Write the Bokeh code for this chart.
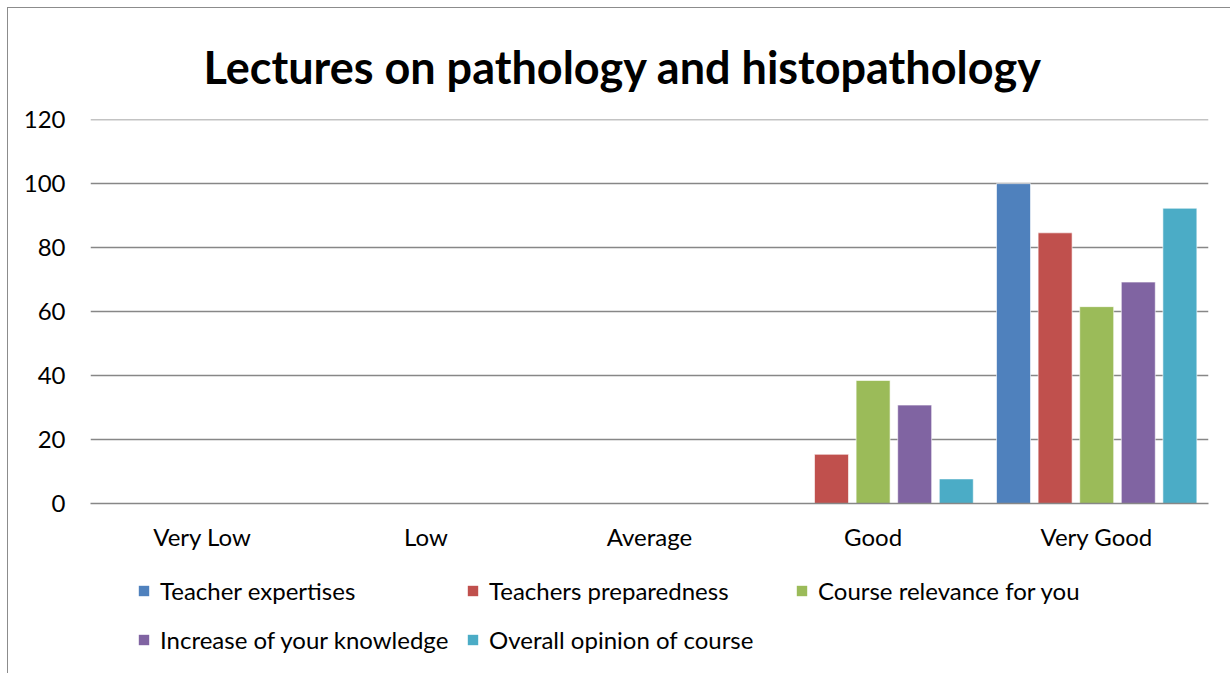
from bokeh.plotting import figure
from bokeh.models import ColumnDataSource, Legend, LegendItem
from bokeh.layouts import column
from bokeh.transform import dodge
from bokeh.embed import file_html
from bokeh.resources import INLINE

categories = ["Very Low", "Low", "Average", "Good", "Very Good"]
series_names = ["Teacher expertises", "Teachers preparedness", "Course relevance for you",
                "Increase of your knowledge", "Overall opinion of course"]
teacher_expertises = [0, 0, 0, 0, 100]
teachers_preparedness = [0, 0, 0, 15.38, 84.62]
course_relevance = [0, 0, 0, 38.46, 61.54]
increase_knowledge = [0, 0, 0, 30.77, 69.23]
overall_opinion = [0, 0, 0, 7.69, 92.31]
y_ticks = [0, 20, 40, 60, 80, 100, 120]
colors = ["#4F81BD", "#C0504D", "#9BBB59", "#8064A2", "#4BACC6"]

FONT = "Lato"
GRID = "#878787"
cols = ["s0", "s1", "s2", "s3", "s4"]

source = ColumnDataSource(dict(
    cat=categories,
    s0=teacher_expertises, s1=teachers_preparedness, s2=course_relevance,
    s3=increase_knowledge, s4=overall_opinion,
))

p = figure(x_range=categories, y_range=(0, 120.05), width=1222, height=552,
           output_backend="svg", toolbar_location=None,
           min_border_left=82, min_border_right=22, min_border_top=111, min_border_bottom=57)

p.title.text = "Lectures on pathology and histopathology"
p.title.text_font = FONT
p.title.text_font_size = "45px"
p.title.text_font_style = "bold"
p.title.text_color = "black"
p.title.align = "left"
p.title.offset = 113
p.title.standoff = 52

p.outline_line_color = None
p.background_fill_color = "white"
p.border_fill_color = "white"

pitch = 0.186
offsets = [-2 * pitch, -pitch, 0, pitch, 2 * pitch]
renderers = []
for i, col in enumerate(cols):
    r = p.vbar(x=dodge("cat", offsets[i], range=p.x_range), top=col, width=0.152,
               source=source, fill_color=colors[i], line_color="white", line_width=1,
               line_alpha=0.6)
    renderers.append(r)

p.xgrid.grid_line_color = None
p.ygrid.grid_line_color = GRID
p.ygrid.grid_line_width = 1.5
p.yaxis.ticker = y_ticks

for ax in (p.xaxis[0], p.yaxis[0]):
    ax.axis_line_color = None
    ax.major_tick_line_color = None
    ax.minor_tick_line_color = None
    ax.major_tick_out = 0
    ax.major_tick_in = 0
    ax.major_label_text_font = FONT
    ax.major_label_text_font_size = "24px"
    ax.major_label_text_color = "black"
p.xaxis.axis_line_color = GRID
p.xaxis.axis_line_width = 1.5
p.yaxis.major_label_standoff = 25
p.xaxis.major_label_standoff = 18

# legend panel below the chart
p2 = figure(x_range=categories, y_range=(200, 300), width=1222, height=113,
            output_backend="svg", toolbar_location=None,
            min_border_left=0, min_border_right=0, min_border_top=0, min_border_bottom=0)
p2.outline_line_color = None
p2.axis.visible = False
p2.grid.visible = False
p2.border_fill_color = "white"
leg_renderers = []
for i, col in enumerate(cols):
    r = p2.vbar(x="cat", top=col, width=0.152, source=source, fill_color=colors[i],
                line_color=None, visible=False)
    leg_renderers.append(r)

legend = Legend(items=[LegendItem(label=n, renderers=[r]) for n, r in zip(series_names, leg_renderers)],
                orientation="horizontal", nrows=2, location=(47, 14))
legend.label_text_font = FONT
legend.label_text_font_size = "24px"
legend.label_text_color = "black"
legend.glyph_width = 13
legend.glyph_height = 13
legend.label_standoff = 10
legend.label_width = 296
legend.label_height = 39
legend.spacing = 10
legend.padding = 0
legend.margin = 0
legend.border_line_color = None
legend.background_fill_alpha = 0
legend.inactive_fill_alpha = 0
p2.add_layout(legend, "center")

layout = column(p, p2, spacing=0,
                styles={"margin-left": "7px", "margin-top": "7px",
                        "border-left": "1px solid #8c8c8c", "border-top": "1px solid #8c8c8c"})

open("out.html", "w").write(file_html(layout, INLINE))
